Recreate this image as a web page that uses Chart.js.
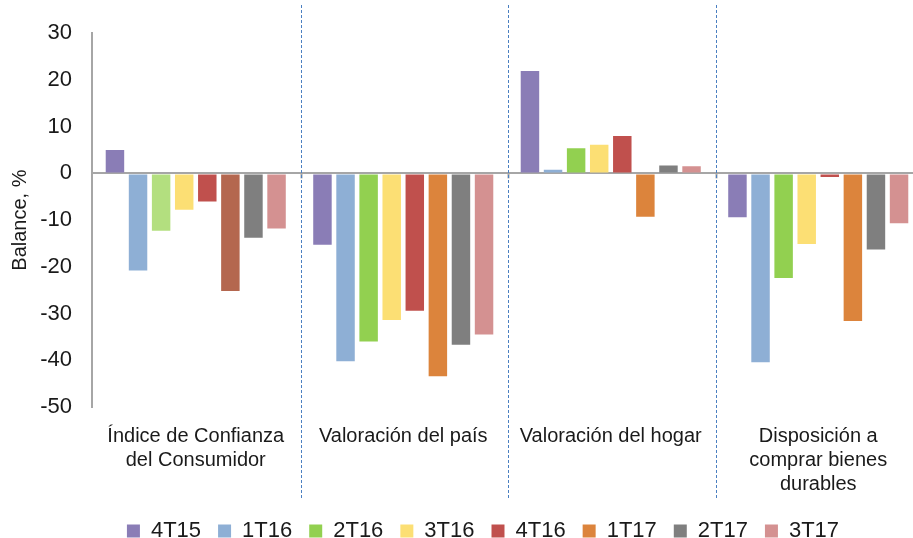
<!DOCTYPE html>
<html>
<head>
<meta charset="utf-8">
<script src="https://cdn.jsdelivr.net/npm/chart.js@4.4.1/dist/chart.umd.min.js"></script>
<style>
  html, body { margin: 0; padding: 0; background: #fff; overflow: hidden; }
  #wrap { width: 940px; height: 552px; }
</style>
</head>
<body>
<div id="wrap"><canvas id="chart"></canvas></div>
<script>
// Categories (x axis), one label per group
const categories = [
  ['Índice de Confianza', 'del Consumidor'],
  'Valoración del país',
  'Valoración del hogar',
  ['Disposición a', 'comprar bienes', 'durables']
];

// Balance values, one array per quarter
const s4T15 = [5.0, -15.3, 21.9, -9.4];
const s1T16 = [-20.8, -40.2, 0.8, -40.4];
const s2T16 = [-12.3, -36.0, 5.4, -22.4];
const s3T16 = [-7.8, -31.4, 6.1, -15.1];
const s4T16 = [-6.0, -29.4, 8.0, -0.8];
const s1T17 = [-25.2, -43.4, -9.3, -31.6];
const s2T17 = [-13.8, -36.7, 1.7, -16.3];
const s3T17 = [-11.8, -34.5, 1.5, -10.7];

const seriesNames = ['4T15', '1T16', '2T16', '3T16', '4T16', '1T17', '2T17', '3T17'];
const seriesValues = [s4T15, s1T16, s2T16, s3T16, s4T16, s1T17, s2T17, s3T17];

// Y axis ticks
const yTicks = [30, 20, 10, 0, -10, -20, -30, -40, -50];

// Colours: base colour per series, and the odd ones used in the first group
const baseColors = ['#8a7db6', '#8eafd5', '#92d050', '#fcdf74', '#c0504d', '#dc843c', '#7f7f7f', '#d49191'];
const firstGroupColors = ['#8a7db6', '#8eafd5', '#b3df7f', '#fcdf74', '#c0504d', '#b4674f', '#7f7f7f', '#d49191'];

const FONT = "'Liberation Sans', Arial, sans-serif";
const TEXT = '#1a1a1a';

// Dashed separators between the groups + small ticks on the zero line
const separators = {
  id: 'separators',
  afterLayout(chart) {
    // legend in the original sits a bit right of the page centre
    if (chart.legend) chart.legend.left += 44;
  },
  afterDraw(chart) {
    const x = chart.scales.x;
    const y = chart.scales.y;
    const c = chart.ctx;
    const zero = y.getPixelForValue(0);
    c.save();
    for (let i = 0; i < categories.length - 1; i++) {
      const bx = Math.round((x.getPixelForValue(i) + x.getPixelForValue(i + 1)) / 2) + 1.5;
      c.strokeStyle = '#a6a6a6';
      c.lineWidth = 2;
      c.setLineDash([]);
      c.beginPath();
      c.moveTo(bx, zero);
      c.lineTo(bx, zero + 5);
      c.stroke();
      c.strokeStyle = '#4a7fc1';
      c.lineWidth = 1;
      c.setLineDash([3, 2]);
      c.beginPath();
      c.moveTo(bx, 5);
      c.lineTo(bx, 500);
      c.stroke();
    }
    c.restore();
  }
};

const datasets = seriesNames.map((name, i) => ({
  label: name,
  data: seriesValues[i],
  backgroundColor: seriesValues[i].map((_, j) => (j === 0 ? firstGroupColors[i] : baseColors[i])),
  borderWidth: 0,
  categoryPercentage: 0.89,
  barPercentage: 0.8
}));

new Chart(document.getElementById('chart'), {
  type: 'bar',
  data: { labels: categories, datasets: datasets },
  plugins: [separators],
  options: {
    responsive: true,
    maintainAspectRatio: false,
    animation: false,
    layout: { padding: { top: 15.5, right: 18, left: 0, bottom: 0 } },
    plugins: {
      tooltip: { enabled: false },
      legend: {
        position: 'bottom',
        labels: {
          boxWidth: 13,
          boxHeight: 13,
          padding: 17,
          color: TEXT,
          font: { family: FONT, size: 22 },
          generateLabels: chart => chart.data.datasets.map((ds, i) => ({
            text: ds.label,
            fillStyle: baseColors[i],
            strokeStyle: baseColors[i],
            lineWidth: 0,
            fontColor: TEXT,
            hidden: !chart.isDatasetVisible(i),
            datasetIndex: i
          }))
        }
      }
    },
    scales: {
      x: {
        grid: { display: false, drawTicks: false },
        border: { display: false },
        afterFit: s => { s.height = 96; },
        ticks: {
          color: TEXT,
          autoSkip: false,
          maxRotation: 0,
          padding: 17,
          font: { family: FONT, size: 20, lineHeight: 1.2 }
        }
      },
      y: {
        min: -50,
        max: 30,
        afterFit: s => { s.width = 92; },
        afterBuildTicks: s => { s.ticks = yTicks.map(v => ({ value: v })); },
        border: { display: true, color: '#a6a6a6', width: 2 },
        grid: {
          drawTicks: false,
          color: ctx => (ctx.tick && ctx.tick.value === 0 ? '#a6a6a6' : 'rgba(0,0,0,0)'),
          lineWidth: 2
        },
        ticks: {
          color: TEXT,
          padding: 20,
          font: { family: FONT, size: 22 }
        },
        title: {
          display: true,
          text: 'Balance, %',
          color: TEXT,
          padding: { top: 8, bottom: 0 },
          font: { family: FONT, size: 20 }
        }
      }
    }
  }
});
</script>
</body>
</html>
